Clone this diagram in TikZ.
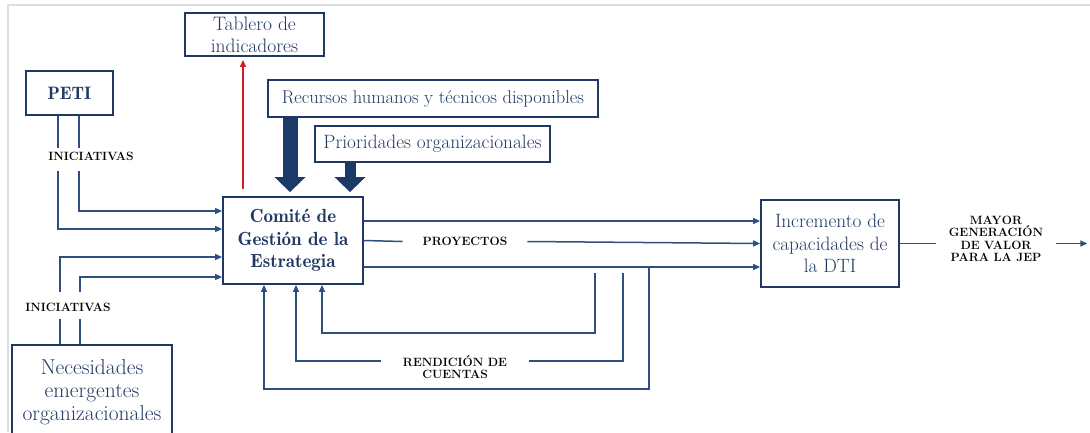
\documentclass[tikz,border=0pt]{standalone}
\usetikzlibrary{arrows.meta,calc}
\definecolor{boxline}{RGB}{31,56,100}
\definecolor{boxtext}{RGB}{34,58,100}
\definecolor{conn}{RGB}{45,80,128}
\definecolor{bigfill}{RGB}{28,58,104}
\definecolor{redline}{RGB}{210,30,40}
\definecolor{frame}{RGB}{222,222,222}
\tikzset{
  box/.style={draw=boxline, line width=1.8pt, inner sep=0pt, align=center, text=boxtext},
  lbl/.style={inner ysep=0pt, inner xsep=0pt, align=center, font=\fontsize{12}{12.5}\selectfont\bfseries, text=black},
  cline/.style={draw=conn, line width=1.5pt},
  carrow/.style={cline, -{Triangle[length=7pt,width=6pt]}},
  bigarrow/.style={draw=bigfill, -{Triangle[length=15pt,width=30pt]}}
}
\begin{document}
\begin{tikzpicture}[x=1pt,y=-1pt]
\useasboundingbox (0,0) rectangle (1090,432);
\fill[white] (0,0) rectangle (1090,432);
\draw[frame, line width=1.2pt] (8,432) -- (8,5) -- (1090,5);

% boxes
\node[box, minimum width=139pt, minimum height=43pt, font=\fontsize{19.5}{22}\selectfont] (tab) at (254.5,34.5) {Tablero de\\indicadores};
\node[box, minimum width=87pt, minimum height=44pt, font=\fontsize{18}{22}\fontseries{b}\selectfont] (peti) at (69.5,93) {PETI};
\node[box, minimum width=330pt, minimum height=37pt, font=\fontsize{18.5}{20}\selectfont] (rec) at (433,98.5) {Recursos humanos y t\'ecnicos disponibles};
\node[box, minimum width=235pt, minimum height=36pt, font=\fontsize{19.3}{20}\selectfont] (pri) at (432.5,144) {Prioridades organizacionales};
\node[box, minimum width=140pt, minimum height=87pt, font=\fontsize{19}{22.5}\fontseries{b}\selectfont, text=boxline] (com) at (293,240.5) {Comit\'e de\\Gesti\'on de la\\Estrategia};
\node[box, minimum width=138pt, minimum height=87pt, font=\fontsize{19.3}{22.5}\selectfont] (inc) at (830,243.5) {Incremento de\\capacidades de\\la DTI};
\node[box, minimum width=160pt, minimum height=95pt, font=\fontsize{21.5}{23}\selectfont] (nec) at (92,392.5) {Necesidades\\emergentes\\organizacionales};

% labels
\node[lbl] (ini1) at (91,156) {INICIATIVAS};
\node[lbl] (ini2) at (68,307) {INICIATIVAS};
\node[lbl, inner xsep=20pt] (proy) at (465,241.5) {PROYECTOS};
\node[lbl, inner xsep=22pt] (rend) at (455,367) {RENDICI\'ON DE\\CUENTAS};
\node[lbl, inner xsep=13pt] (mayor) at (996,239) {MAYOR\\GENERACI\'ON\\DE VALOR\\PARA LA JEP};

% thick arrows
\draw[bigarrow, line width=15pt] ([xshift=-143pt]rec.south) -- ([xshift=-3pt,yshift=4pt]com.north);
\draw[bigarrow, line width=11pt] ([xshift=-82.5pt]pri.south) -- ([xshift=57pt,yshift=4pt]com.north);

% red arrow
\draw[draw=redline, line width=1.3pt, -{Triangle[length=7pt,width=6pt]}] ([xshift=-50pt,yshift=7pt]com.north) -- ([xshift=-11.5pt,yshift=-3pt]tab.south);

% PETI initiatives
\draw[cline] ([xshift=-11.5pt]peti.south) -- ++(0,32);
\draw[cline] ([xshift=9.5pt]peti.south) -- ++(0,32);
\coordinate (a1) at ([xshift=-11.5pt,yshift=-55pt]peti.south);
\coordinate (a2) at ([xshift=9.5pt,yshift=-55pt]peti.south);
\draw[carrow] (a1) |- ([yshift=11.5pt]com.west);
\draw[carrow] (a2) |- ([yshift=29.5pt]com.west);

% Necesidades initiatives
\draw[cline] ([xshift=-32pt]nec.north) -- ++(0,-25);
\draw[cline] ([xshift=-12pt]nec.north) -- ++(0,-25);
\coordinate (b1) at ([xshift=-32pt,yshift=52pt]nec.north);
\coordinate (b2) at ([xshift=-12pt,yshift=52pt]nec.north);
\draw[carrow] (b1) |- ([yshift=-16.5pt]com.west);
\draw[carrow] (b2) |- ([yshift=-36.5pt]com.west);

% outputs
\coordinate (o1) at ([yshift=19.5pt]com.east);
\coordinate (o3) at ([yshift=-26.5pt]com.east);
\draw[carrow] (o1) -- (o1 -| inc.west);
\draw[cline] (com.east) -- (proy.west);
\draw[carrow] (proy.east) -- (inc.west);
\draw[carrow] (o3) -- (o3 -| inc.west);

% feedback loops
\coordinate (f1) at (595,273);
\coordinate (f2) at (623,273);
\coordinate (f3) at (649,267);
\draw[carrow] (f1) -- (595,333) -| ([xshift=29pt]com.south);
\draw[cline] (f2) -- (623,361) -- (rend.east |- 0,361);
\draw[carrow] (rend.west |- 0,361) -| ([xshift=3pt]com.south);
\draw[carrow] (f3) -- (649,389) -| ([xshift=-29pt]com.south);

% final output
\draw[cline] (inc.east) -- (inc.east -| mayor.west);
\draw[carrow] (inc.east -| mayor.east) -- ++(31,0);
\end{tikzpicture}
\end{document}
